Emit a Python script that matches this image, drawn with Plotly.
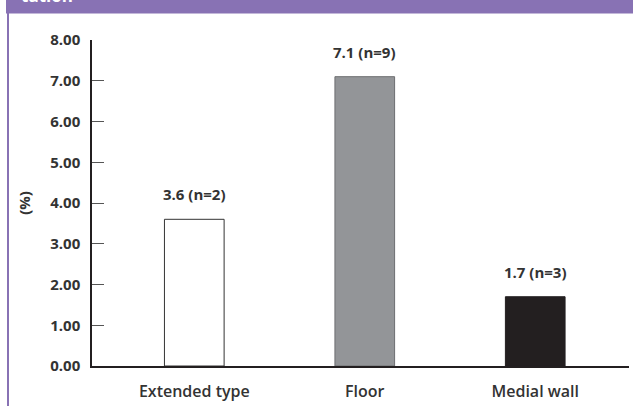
import plotly.graph_objects as go

categories = ["Extended type", "Floor", "Medial wall"]
values = [3.6, 7.1, 1.7]
counts = [2, 9, 3]
bar_colors = ["#FFFFFF", "#939598", "#231F20"]
bar_lines = ["#333333", "#6D6E71", "#231F20"]
y_ticks = [0, 1, 2, 3, 4, 5, 6, 7, 8]
y_tick_labels = ["%.2f" % v for v in y_ticks]
labels = ["%.1f (n=%d)" % (v, n) for v, n in zip(values, counts)]

FONT = "Open Sans"
TXT = "#333333"
PURPLE = "#8872B4"

fig = go.Figure()
fig.add_trace(go.Bar(
    x=categories, y=values, width=0.35,
    marker=dict(color=bar_colors, line=dict(color=bar_lines, width=1)),
    hoverinfo="skip", showlegend=False,
))

for c, v, t in zip(categories, values, labels):
    fig.add_annotation(x=c, y=v, text=t, showarrow=False, yshift=25,
                       font=dict(family=FONT, size=15, color=TXT, weight=700))

# header band and left rule
fig.add_shape(type="rect", xref="paper", yref="paper",
              x0=(6 - 92) / 537, x1=(640 - 92) / 537,
              y0=(366 - 13.5) / 326, y1=(366 + 5) / 326,
              fillcolor=PURPLE, line=dict(width=0), layer="below")
fig.add_shape(type="line", xref="paper", yref="paper",
              x0=(8 - 92) / 537, x1=(8 - 92) / 537,
              y0=(366 - 410) / 326, y1=(366 - 13) / 326,
              line=dict(color=PURPLE, width=2))
fig.add_annotation(xref="paper", yref="paper", x=(19 - 92) / 537, y=(366 - 9) / 326,
                   xanchor="left", yanchor="bottom", text="tation", showarrow=False,
                   font=dict(family=FONT, size=17, color="#FFFFFF", weight=700))

fig.update_layout(
    width=633, height=406,
    margin=dict(l=92, r=4, t=40, b=40),
    paper_bgcolor="white", plot_bgcolor="white",
    font=dict(family=FONT, color=TXT),
    xaxis=dict(range=[-0.6, 2.55], showline=True, linecolor="#231F20", linewidth=1.5,
               ticks="", showgrid=False, zeroline=False,
               tickfont=dict(family=FONT, size=16, color=TXT, weight=600),
               ticklabelstandoff=10),
    yaxis=dict(range=[0, 8], tickvals=y_ticks, ticktext=y_tick_labels,
               showline=True, linecolor="#231F20", linewidth=1.5,
               ticks="inside", ticklen=12, tickcolor="#555555", tickwidth=1,
               showgrid=False, zeroline=False,
               tickfont=dict(family=FONT, size=15, color=TXT, weight=700),
               ticklabelstandoff=7,
               title=dict(text="(%)", standoff=16,
                          font=dict(family=FONT, size=15, color=TXT, weight=700))),
    bargap=0.65,
)

fig.write_html("out.html", config={"displayModeBar": False},
               post_script="document.body.style.margin='0';document.body.style.overflow='hidden';")
